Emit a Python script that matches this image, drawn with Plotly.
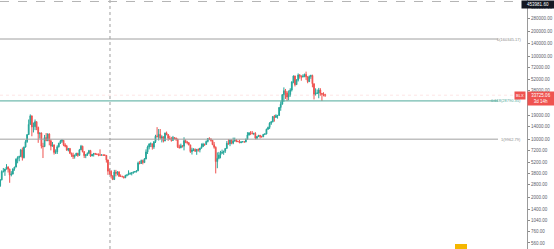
import numpy as np
import pandas as pd
import plotly.graph_objects as go

# ---------------- data (weekly BTCUSD candles) ----------------
week_start = "2017-07-17"
opens = [1915, 2740, 2730, 3220, 4060, 4090, 4350, 4600, 4330, 3700, 3780, 4370, 4600, 5700, 6000, 6150,
         7400, 5950, 8000, 9300, 11300, 15000, 19000, 14000, 14100, 16200, 13800, 11600, 11800, 8200, 8100,
         10400, 9600, 11500, 9500, 8200, 8500, 6900, 7000, 8050, 8900, 9400, 9650, 8500, 8200, 7350, 7700,
         6750, 6400, 6150, 6350, 6750, 6350, 7400, 8200, 7050, 6300, 6400, 6700, 7250, 6250, 6500, 6700,
         6600, 6550, 6400, 6400, 6420, 6400, 6350, 5600, 4100, 4100, 3600, 3250, 4000, 3850, 4000, 3550,
         3550, 3520, 3420, 3650, 3700, 3850, 3860, 3920, 4000, 4050, 4150, 5150, 5070, 5500, 5200, 5750,
         7000, 8000, 8700, 8750, 8000, 9300, 10800, 10750, 11400, 10250, 10650, 9500, 11800, 11300, 10200,
         10150, 9600, 10400, 10300, 10000, 8050, 7850, 8300, 8200, 9550, 9200, 9050, 8500, 7050, 7400, 7500,
         7100, 7510, 7400, 7750, 8100, 8700, 8600, 9350, 10150, 9900, 9650, 8550, 7950, 5350, 5850, 6400,
         6750, 6900, 7150, 7700, 8900, 8750, 9700, 8900, 9450, 9700, 9350, 9300, 9000, 9250, 9300, 9200,
         9950, 11200, 11900, 11850, 11650, 11700, 10250, 10700, 11100, 10750, 10650, 11400, 11500, 13100,
         13800, 15500, 16100, 18700, 18200, 19150, 19250, 24000, 26300, 34200, 38200, 36000, 32100, 34300,
         39000, 48600, 57500, 45200, 51200, 59000, 57300, 55800, 57000, 60000, 56200, 49100, 56600, 58200,
         46400, 34700, 35600, 35800, 39000, 35500, 34700, 34200]
highs = [2900, 2800, 3300, 4200, 4480, 4370, 4980, 4700, 4400, 4100, 4400, 4620, 5850, 6200, 6300, 7600,
         7900, 8100, 9700, 11400, 17200, 19800, 19200, 15800, 17200, 16300, 14100, 12000, 12000, 9000, 11200,
         11800, 11700, 11700, 9900, 9200, 8600, 7500, 8400, 9000, 9750, 9950, 9700, 8900, 8500, 7800, 7800,
         6850, 6850, 6500, 6800, 6800, 7600, 8500, 8300, 7150, 6600, 6900, 7400, 7400, 6600, 6800, 6800,
         6680, 6700, 7500, 6550, 6500, 6550, 6400, 5650, 4400, 4200, 3650, 4250, 4250, 4100, 4100, 3750,
         3620, 3540, 3700, 3720, 4200, 3950, 3950, 4050, 4100, 4150, 5350, 5450, 5650, 5650, 5900, 7500,
         8350, 8900, 9100, 8800, 9350, 11250, 13900, 13200, 13200, 11100, 10700, 11950, 12300, 11500, 10950,
         10600, 10900, 10450, 10350, 10050, 8550, 8800, 8400, 10500, 9900, 9500, 9100, 8500, 7850, 7750,
         7700, 7500, 7700, 7800, 8850, 9000, 8750, 9600, 10200, 10500, 10250, 9700, 9200, 8150, 6900, 7000,
         7200, 7450, 7200, 7750, 9450, 9950, 9950, 9850, 10400, 10400, 9950, 9550, 9800, 9300, 9450, 9350,
         10100, 12100, 12050, 12450, 12500, 11850, 12100, 10800, 11150, 11150, 10950, 11450, 11700, 13350,
         14100, 15950, 16500, 18800, 19500, 19900, 19450, 24300, 28400, 34800, 41900, 40100, 37800, 38500,
         40950, 49700, 58300, 58000, 52600, 61700, 60600, 58400, 60200, 61400, 64900, 57000, 58400, 59600,
         59600, 46600, 40800, 39500, 41300, 41000, 35800, 36600, 35100]
lows = [1840, 2450, 2650, 3180, 3950, 3600, 4300, 3950, 2970, 3550, 3750, 4150, 4560, 5100, 5400, 6050,
        5500, 5850, 7900, 9000, 11200, 15000, 10800, 12000, 12800, 12800, 9000, 10100, 7700, 5900, 8000,
        9400, 9400, 8400, 7300, 8100, 6500, 6600, 6600, 7900, 8700, 9000, 8200, 7950, 7200, 7100, 6600,
        6100, 5750, 5800, 6300, 6100, 6300, 7400, 6900, 5900, 5880, 6250, 6700, 6100, 6200, 6150, 6450,
        6450, 6200, 6300, 6350, 6250, 6350, 5200, 3700, 3700, 3350, 3200, 3220, 3550, 3650, 3500, 3500,
        3450, 3350, 3380, 3550, 3680, 3700, 3650, 3820, 3950, 3950, 4100, 4950, 5000, 4950, 5200, 5700,
        6600, 7500, 8000, 7450, 7600, 8950, 10400, 9600, 10100, 9100, 9100, 9400, 11100, 9500, 9800,
        9300, 9600, 9900, 9500, 7800, 7700, 7750, 7900, 7300, 8900, 8650, 8400, 6800, 6500, 7150,
        7050, 6450, 7050, 6900, 7700, 8050, 8250, 8550, 9100, 9700, 9300, 8450, 7650, 3850, 4450, 5700,
        5850, 6650, 6450, 6800, 7650, 8550, 8200, 8650, 8650, 9300, 9150, 9200, 8950, 8950, 9100, 9050,
        9150, 9900, 11000, 11150, 11350, 11150, 9900, 9900, 10600, 10150, 10400, 10550, 11200, 11400,
        12900, 13200, 14800, 15900, 16200, 18100, 17600, 19000, 21900, 26000, 28100, 30400, 28800, 29300,
        32300, 37400, 47000, 43000, 44900, 49300, 53300, 50400, 55400, 55500, 51500, 47000, 48800, 53100,
        42000, 30000, 33400, 34800, 31000, 33300, 28800, 32700, 32100]
closes = [2740, 2730, 3220, 4060, 4090, 4350, 4600, 4330, 3700, 3780, 4370, 4600, 5700, 6000, 6150, 7400,
          5950, 8000, 9300, 11300, 15000, 19000, 14000, 14100, 16200, 13800, 11600, 11800, 8200, 8100, 10400,
          9600, 11500, 9500, 8200, 8500, 6900, 7000, 8050, 8900, 9400, 9650, 8500, 8200, 7350, 7700, 6750,
          6400, 6150, 6350, 6750, 6350, 7400, 8200, 7050, 6300, 6400, 6700, 7250, 6250, 6500, 6700, 6600,
          6550, 6400, 6400, 6420, 6400, 6350, 5600, 4100, 4100, 3600, 3250, 4000, 3850, 4000, 3550, 3550,
          3520, 3420, 3650, 3700, 3850, 3860, 3920, 4000, 4050, 4150, 5150, 5070, 5500, 5200, 5750, 7000,
          8000, 8700, 8750, 8000, 9300, 10800, 10750, 11400, 10250, 10650, 9500, 11800, 11300, 10200, 10150,
          9600, 10400, 10300, 10000, 8050, 7850, 8300, 8200, 9550, 9200, 9050, 8500, 7050, 7400, 7500,
          7100, 7510, 7400, 7750, 8100, 8700, 8600, 9350, 10150, 9900, 9650, 8550, 7950, 5350, 5850, 6400,
          6750, 6900, 7150, 7700, 8900, 8750, 9700, 8900, 9450, 9700, 9350, 9300, 9000, 9250, 9300, 9200,
          9950, 11200, 11900, 11850, 11650, 11700, 10250, 10700, 11100, 10750, 10650, 11400, 11500, 13100,
          13800, 15500, 16100, 18700, 18200, 19150, 19250, 24000, 26300, 34200, 38200, 36000, 32100, 34300,
          39000, 48600, 57500, 45200, 51200, 59000, 57300, 55800, 57000, 60000, 56200, 49100, 56600, 58200,
          46400, 34700, 35600, 35800, 39000, 35500, 34700, 34200, 33725.06]

tick_vals = [560, 760, 1040, 1400, 2000, 2800, 3800, 5200, 7200, 10000, 14000, 19000,
             38000, 52000, 72000, 100000, 140000, 200000, 280000, 380000]
tick_text = ["560.00", "760.00", "1040.00", "1400.00", "2000.00", "2800.00", "3800.00", "5200.00",
             "7200.00", "10000.00", "14000.00", "19000.00", "38000.00", "52000.00",
             "72000.00", "100000.00", "140000.00", "200000.00", "280000.00", "380000.00"]

fib_prices = [160345.17, 28790.35, 9962.79]
fib_labels = ["0(160345.17)", "0.618(28790.35)", "1(9962.79)"]
fib_colors = ["#a0a0a0", "#4fa99a", "#a0a0a0"]
fib_text_colors = ["#8a8a8a", "#4fa99a", "#8a8a8a"]

last_price = 33725.06
countdown = "3d 14h"
crosshair_price = "453981.60"
badge_text = "BLX"
crosshair_date = "2018-11-28"

# ---------------- figure ----------------
W, H = 554, 249
plot_w = 527
px_per_week = 1.585
first_x_px = -3.0
t0 = pd.Timestamp(week_start)
dates = pd.date_range(week_start, periods=len(closes), freq="7D")

def px_to_date(px):
    return t0 + pd.Timedelta(weeks=(px - first_x_px) / px_per_week)

x_start = px_to_date(0)
x_end = px_to_date(plot_w)
fib_end = px_to_date(498)

fig = go.Figure()

# last price line (very faint dotted)
fig.add_trace(go.Scatter(x=[x_start, x_end], y=[last_price, last_price], mode="lines",
                         line=dict(color="rgba(239,83,80,0.15)", width=1, dash="dot"),
                         hoverinfo="skip"))

# fib lines
for p, c in zip(fib_prices, fib_colors):
    fig.add_trace(go.Scatter(x=[x_start, fib_end], y=[p, p], mode="lines",
                             line=dict(color=c, width=1), hoverinfo="skip"))

fig.add_trace(go.Candlestick(
    x=dates, open=opens, high=highs, low=lows, close=closes,
    increasing=dict(line=dict(color="#26a69a", width=1), fillcolor="#26a69a"),
    decreasing=dict(line=dict(color="#ef5350", width=1), fillcolor="#ef5350"),
    whiskerwidth=0,
))

annotations = []
for p, lab, c in zip(fib_prices, fib_labels, fib_text_colors):
    annotations.append(dict(xref="paper", yref="y", x=523 / plot_w, y=np.log10(p),
                            xanchor="right", yanchor="middle", text=lab, showarrow=False,
                            font=dict(size=4, color=c, family="Liberation Sans")))

annotations.append(dict(xref="paper", yref="y", x=1.0, y=np.log10(last_price), xanchor="right",
                        yanchor="middle", text=badge_text, showarrow=False, xshift=-1,
                        bgcolor="#ef5350", borderpad=1,
                        font=dict(size=4, color="white", family="Liberation Sans")))
annotations.append(dict(xref="paper", yref="y", x=1.0, y=np.log10(last_price), xanchor="left",
                        yanchor="middle", text=f"{last_price:.2f}<br>{countdown}", showarrow=False,
                        bgcolor="#ef5350", borderpad=1, width=24, align="center", yshift=-3,
                        font=dict(size=4.5, color="white", family="Liberation Sans")))
annotations.append(dict(xref="paper", yref="paper", x=1.0, y=1.0, xanchor="left", yanchor="top",
                        text=crosshair_price, showarrow=False, xshift=-6,
                        bgcolor="#131722", borderpad=1, width=30, align="center",
                        font=dict(size=4.5, color="white", family="Liberation Sans")))

shapes = [
    dict(type="line", xref="x", yref="paper", x0=crosshair_date, x1=crosshair_date, y0=0, y1=1,
         line=dict(color="#9e9e9e", width=1, dash="dot")),
    dict(type="line", xref="paper", yref="paper", x0=0, x1=1, y0=0.994, y1=0.994,
         line=dict(color="#b5b5b5", width=1, dash="dash")),
    dict(type="rect", xref="paper", yref="paper", x0=455 / plot_w, x1=467 / plot_w, y0=0, y1=5 / H,
         fillcolor="#f5b700", line=dict(width=0)),
]

fig.update_layout(
    width=W, height=H, margin=dict(l=0, r=W - plot_w, t=0, b=0),
    paper_bgcolor="white", plot_bgcolor="white", showlegend=False,
    annotations=annotations, shapes=shapes,
)
fig.update_xaxes(type="date", range=[x_start, x_end], visible=False,
                 rangeslider_visible=False, showgrid=False)
fig.update_yaxes(type="log", range=[2.675, 5.675], side="right",
                 tickvals=tick_vals, ticktext=tick_text,
                 tickfont=dict(size=4.5, color="#5d606b", family="Liberation Sans"),
                 ticks="outside", ticklen=2, tickcolor="#8a8a8a",
                 showgrid=False, zeroline=False, showline=True, linecolor="#9a9a9a",
                 linewidth=1, automargin=False)

fig.write_html("out.html")
